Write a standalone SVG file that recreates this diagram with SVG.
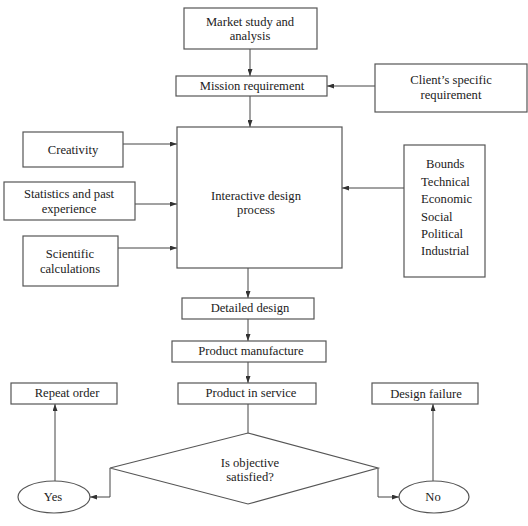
<svg xmlns="http://www.w3.org/2000/svg" width="528" height="526" viewBox="0 0 528 526">
<style>
.b{fill:#fff;stroke:#555;stroke-width:1.2}
.t{font-family:"Liberation Serif",serif;font-size:12.6px;fill:#222;text-anchor:middle}
.l{font-family:"Liberation Serif",serif;font-size:12.6px;fill:#222}
.c{fill:none;stroke:#444;stroke-width:1}
</style>
<defs>
<marker id="a" viewBox="0 0 7 5" refX="7" refY="2.5" markerWidth="7" markerHeight="5" markerUnits="userSpaceOnUse" orient="auto">
<path d="M0,0 L7,2.5 L0,5 z" fill="#333"/>
</marker>
</defs>
<rect width="528" height="526" fill="#fff"/>
<g id="connectors">
<path class="c" d="M250,49 V76" marker-end="url(#a)"/>
<path class="c" d="M375,86 H327" marker-end="url(#a)"/>
<path class="c" d="M250,96 V127" marker-end="url(#a)"/>
<path class="c" d="M123,144 H177" marker-end="url(#a)"/>
<path class="c" d="M135,204 H177" marker-end="url(#a)"/>
<path class="c" d="M118,248 H177" marker-end="url(#a)"/>
<path class="c" d="M404,188 H342" marker-end="url(#a)"/>
<path class="c" d="M248,268 V298" marker-end="url(#a)"/>
<path class="c" d="M248,319 V341" marker-end="url(#a)"/>
<path class="c" d="M248,362 V383" marker-end="url(#a)"/>
<path class="c" d="M248,404 V441" marker-end="url(#a)"/>
<path class="c" d="M110,468 V497 H90" marker-end="url(#a)"/>
<path class="c" d="M378,468 V497 H399" marker-end="url(#a)"/>
<path class="c" d="M55,481 V404" marker-end="url(#a)"/>
<path class="c" d="M433,481 V404" marker-end="url(#a)"/>
</g>
<g id="market"><rect class="b" x="184" y="8" width="133" height="41"/><text class="t" x="250" y="26">Market study and</text><text class="t" x="250" y="40">analysis</text></g>
<g id="mission"><rect class="b" x="176" y="76" width="151" height="20"/><text class="t" x="252" y="90">Mission requirement</text></g>
<g id="client"><rect class="b" x="375" y="64" width="152" height="48"/><text class="t" x="451" y="84">Client’s specific</text><text class="t" x="451" y="99">requirement</text></g>
<g id="creativity"><rect class="b" x="23" y="132" width="100" height="35"/><text class="t" x="73" y="154">Creativity</text></g>
<g id="statistics"><rect class="b" x="4" y="182" width="131" height="38"/><text class="t" x="69" y="198">Statistics and past</text><text class="t" x="69" y="213">experience</text></g>
<g id="scientific"><rect class="b" x="23" y="236" width="95" height="50"/><text class="t" x="70" y="258">Scientific</text><text class="t" x="70" y="273">calculations</text></g>
<g id="interactive"><rect class="b" x="177" y="127" width="165" height="141"/><text class="t" x="256" y="200">Interactive design</text><text class="t" x="256" y="214">process</text></g>
<g id="bounds"><rect class="b" x="404" y="145" width="81" height="132"/>
<text class="l" x="426" y="168">Bounds</text>
<text class="l" x="421" y="186">Technical</text>
<text class="l" x="421" y="203">Economic</text>
<text class="l" x="421" y="221">Social</text>
<text class="l" x="421" y="238">Political</text>
<text class="l" x="421" y="255">Industrial</text></g>
<g id="detailed"><rect class="b" x="182" y="298" width="132" height="21"/><text class="t" x="250" y="312">Detailed design</text></g>
<g id="manufacture"><rect class="b" x="172" y="341" width="154" height="21"/><text class="t" x="251" y="355">Product manufacture</text></g>
<g id="repeat"><rect class="b" x="11" y="383" width="106" height="21"/><text class="t" x="67" y="397">Repeat order</text></g>
<g id="service"><rect class="b" x="178" y="383" width="138" height="21"/><text class="t" x="251" y="397">Product in service</text></g>
<g id="failure"><rect class="b" x="372" y="383" width="106" height="21"/><text class="t" x="426" y="398">Design failure</text></g>
<g id="decision"><polygon class="b" points="248,433 378,468 248,504 110,468"/><text class="t" x="250" y="467">Is objective</text><text class="t" x="250" y="481">satisfied?</text></g>
<g id="yes"><ellipse class="b" cx="54" cy="497" rx="36" ry="16"/><text class="t" x="53" y="501">Yes</text></g>
<g id="no"><ellipse class="b" cx="434" cy="497" rx="35" ry="16"/><text class="t" x="433" y="501">No</text></g>
</svg>
